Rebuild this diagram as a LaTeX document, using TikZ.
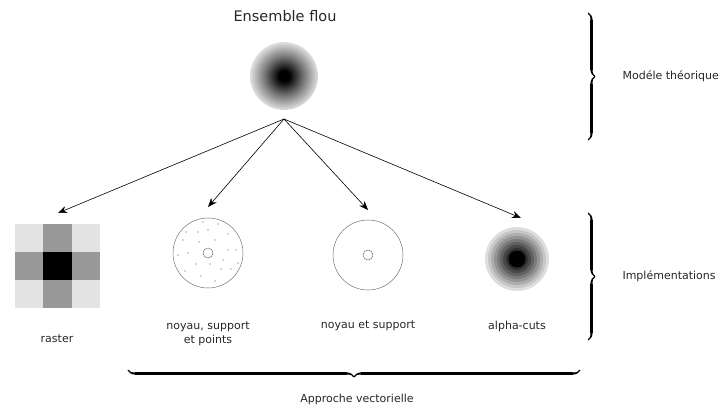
\documentclass[tikz,border=0pt]{standalone}
\usepackage{fontspec}
\setmainfont{DejaVu Sans}
\usetikzlibrary{arrows.meta,decorations.pathreplacing,calligraphy,calc}
\pgfdeclareradialshading{fuzzyshade}{\pgfpoint{0bp}{0bp}}{color(0bp)=(black); color(4bp)=(black); color(14bp)=(black!55); color(25bp)=(black!12); color(50bp)=(white)}
\begin{document}
\begin{tikzpicture}[x=1pt,y=-1pt,
  lbl/.style={font=\fontsize{11}{14}\selectfont, text=black!85, align=center},
  arr/.style={-{Stealth[length=9pt,width=7pt]}, line width=0.6pt},
  ring/.style={draw=black!55, line width=0.5pt},
  brc/.style={decorate, decoration={calligraphic brace, amplitude=7pt}, line width=2.2pt},
  dot/.style={fill=black!70, circle, inner sep=0pt, minimum size=1.2pt}]
\useasboundingbox (0,0) rectangle (720,407);
% title and fuzzy set
\node[font=\fontsize{14.5}{17}\selectfont, text=black!85] (title) at (285,16) {Ensemble flou};
\node[circle, minimum size=68pt, inner sep=0pt, shading=fuzzyshade] (fz) at (284,76) {};
\coordinate (hub) at (284,119);
% raster
\node[inner sep=0pt, minimum size=85pt] (raster) at (57.5,266) {};
\foreach \i/\j/\c in {0/0/black!11,1/0/black!40,2/0/black!11,0/1/black!40,1/1/black,2/1/black!40,0/2/black!11,1/2/black!40,2/2/black!11}{
  \fill[\c] (15+\i*28.33,223.5+\j*28.33) rectangle ++(28.33,28.33);
}
\node[lbl] (lraster) at (57,339) {raster};
% noyau, support et points
\node[circle, ring, minimum size=70pt, inner sep=0pt] (nsp) at (208,253) {};
\node[circle, ring, minimum size=10pt, inner sep=0pt] (nspk) at (208,253) {};
\foreach \dx/\dy in {-5/-31,10/-29,-22/-21,-10/-21,0/-23,20/-19,-25/-13,-9/-11,7/-13,28/-3,20/-3,-30/2,-20/0,15/7,-12/11,2/11,30/10,-23/18,13/16,23/16,-7/23,7/28}{
  \node[dot] at ($(nsp)+(\dx,\dy)$) {};
}
\node[lbl] (lnsp) at (208,334) {noyau, support\\et points};
% noyau et support
\node[circle, ring, minimum size=70pt, inner sep=0pt] (ns) at (368,255) {};
\node[circle, ring, minimum size=10pt, inner sep=0pt] (nsk) at (368,255) {};
\node[lbl] (lns) at (368,326) {noyau et support};
% alpha-cuts
\foreach \r/\c in {32/black!13,29/black!22,26/black!32,23/black!42,20/black!52,17/black!62,14/black!72,11/black!82,8.5/black}{
  \fill[\c] (517,259) circle (\r);
}
\node[circle, minimum size=64pt, inner sep=0pt] (ac) at (517,259) {};
\node[lbl] (lac) at (517,326) {alpha-cuts};
% arrows
\coordinate (t1) at (58,213);
\coordinate (t2) at (208,207);
\coordinate (t3) at (368,210);
\coordinate (t4) at (521,218);
\draw[arr] (hub) -- (t1);
\draw[arr] (hub) -- (t2);
\draw[arr] (hub) -- (t3);
\draw[arr] (hub) -- (t4);
% braces
\coordinate (b1a) at (588,13); \coordinate (b1b) at (588,140);
\draw[brc] (b1a) -- (b1b);
\node[lbl, anchor=west] (lmod) at (619,76) {Modéle théorique};
\coordinate (b2a) at (588,213); \coordinate (b2b) at (588,340);
\draw[brc] (b2a) -- (b2b);
\node[lbl, anchor=west] (limp) at (619,276) {Implémentations};
\coordinate (b3a) at (580,370); \coordinate (b3b) at (128,370);
\draw[brc] (b3a) -- (b3b);
\node[lbl] (lvec) at (357,399) {Approche vectorielle};
\end{tikzpicture}
\end{document}
